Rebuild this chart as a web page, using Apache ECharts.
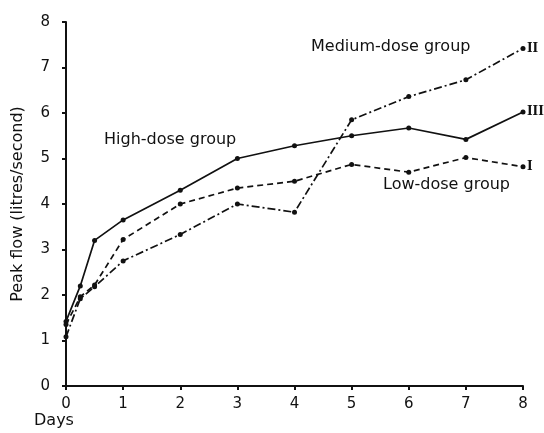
<!DOCTYPE html>
<html>
<head>
<meta charset="utf-8">
<script src="https://cdn.jsdelivr.net/npm/echarts@6/dist/echarts.min.js"></script>
<style>
  html, body { margin: 0; padding: 0; background: #fff; }
  #chart { width: 544px; height: 433px; }
</style>
</head>
<body>
<div id="chart"></div>
<script>
// days after start
const days = [0, 0.25, 0.5, 1, 2, 3, 4, 5, 6, 7, 8]
// peak flow, litres/second
const highDose = [1.42, 2.2, 3.2, 3.65, 4.3, 5.0, 5.28, 5.5, 5.67, 5.42, 6.02]
const mediumDose = [1.08, 1.92, 2.18, 2.75, 3.33, 4.0, 3.82, 5.85, 6.36, 6.73, 7.42]
const lowDose = [1.35, 1.96, 2.22, 3.22, 4.0, 4.35, 4.5, 4.87, 4.7, 5.02, 4.82]
const endTags = { high: 'III', medium: 'II', low: 'I' }

const font = 'DejaVu Sans'
const ink = '#111'

const pairs = (ys) => days.map((d, i) => [d, ys[i]])

// 线条样式
const lineSeries = (name, ys, type, tag) => ({
  name: name,
  type: 'line',
  data: pairs(ys),
  symbol: 'circle',
  symbolSize: 5,
  itemStyle: { color: ink },
  lineStyle: { color: ink, width: 1.7, type: type },
  endLabel: {
    show: true,
    formatter: tag,
    color: ink,
    fontFamily: 'DejaVu Serif',
    fontWeight: 'bold',
    fontSize: 12,
    distance: 4
  },
  animation: false
})

const chart = echarts.init(document.getElementById('chart'))
const option = {
  backgroundColor: '#fff',
  grid: { left: 66, right: 21, top: 22, bottom: 47, containLabel: false },
  xAxis: {
    type: 'value',
    min: 0,
    max: 8,
    interval: 1,
    axisLine: { lineStyle: { color: ink, width: 2 } },
    axisTick: { show: true, length: 4, lineStyle: { color: ink, width: 2 } },
    axisLabel: { color: ink, fontFamily: font, fontSize: 15, margin: 11 },
    splitLine: { show: false }
  },
  yAxis: {
    type: 'value',
    min: 0,
    max: 8,
    interval: 1,
    name: 'Peak flow (litres/second)',
    nameLocation: 'middle',
    nameGap: 40,
    nameTextStyle: { color: ink, fontFamily: font, fontSize: 16 },
    axisLine: { show: true, lineStyle: { color: ink, width: 2 } },
    axisTick: { show: true, length: 4, lineStyle: { color: ink, width: 2 } },
    axisLabel: { color: ink, fontFamily: font, fontSize: 15, margin: 16 },
    splitLine: { show: false }
  },
  graphic: [
    { type: 'text', left: 34, top: 413, style: { text: 'Days', fill: ink, font: '16px "DejaVu Sans"' } },
    { type: 'text', left: 104, top: 132, style: { text: 'High-dose group', fill: ink, font: '16px "DejaVu Sans"' } },
    { type: 'text', left: 311, top: 39, style: { text: 'Medium-dose group', fill: ink, font: '16px "DejaVu Sans"' } },
    { type: 'text', left: 383, top: 177, style: { text: 'Low-dose group', fill: ink, font: '16px "DejaVu Sans"' } }
  ],
  series: [
    lineSeries('High-dose group', highDose, 'solid', endTags.high),
    lineSeries('Medium-dose group', mediumDose, [8, 3, 2, 3], endTags.medium),
    lineSeries('Low-dose group', lowDose, [6, 4], endTags.low)
  ]
}
chart.setOption(option)
</script>
</body>
</html>
